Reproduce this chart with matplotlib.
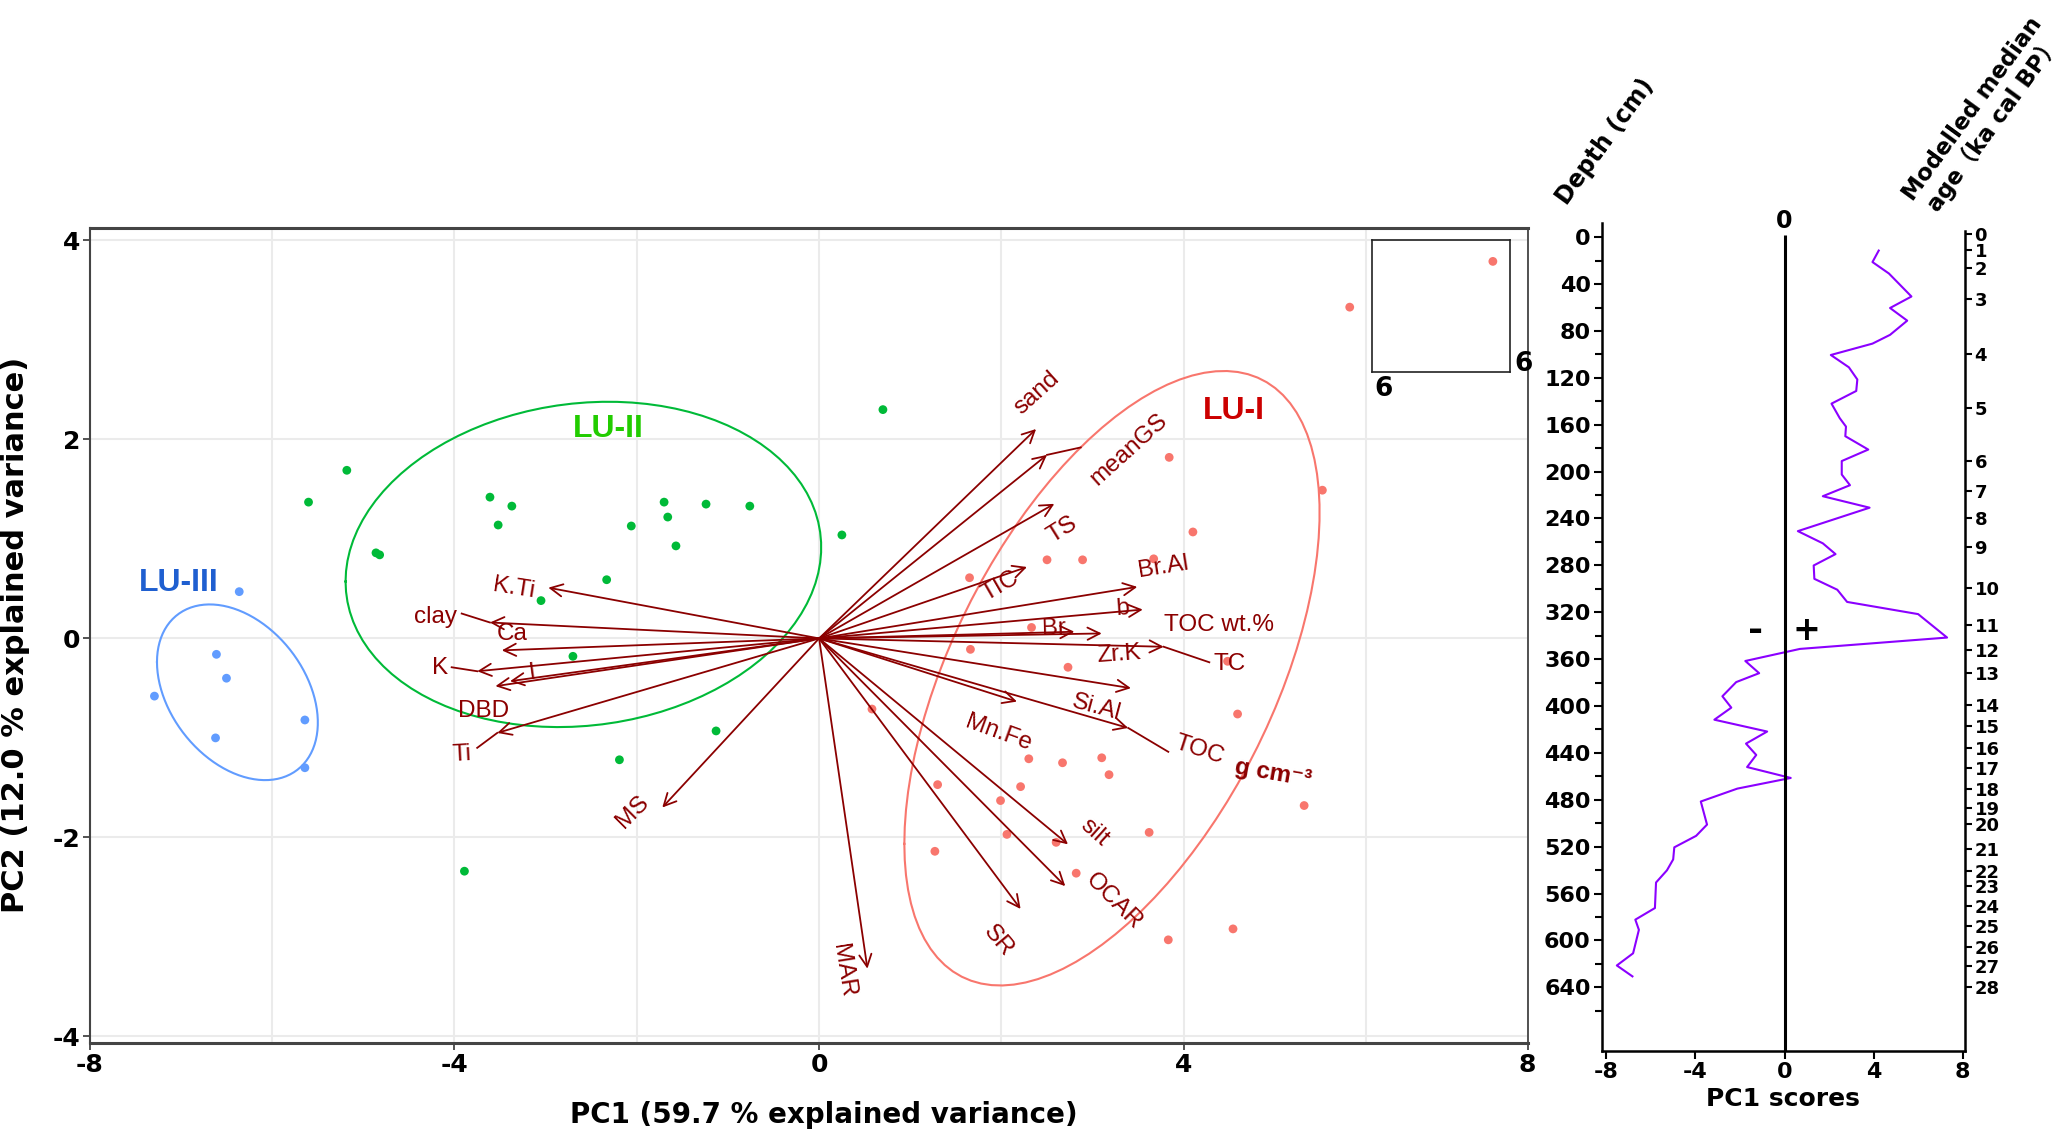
import numpy as np
import matplotlib.pyplot as plt

plt.rcParams['font.family'] = ['Liberation Sans', 'DejaVu Sans', 'Noto Sans CJK SC']

DARKRED = '#8B0000'
BOLD = ['DejaVu Sans', 'Noto Sans CJK SC']

# PCA scores, one pair of lists per lithological unit
# (the first LU-I sample is an off-scale outlier, shown in the small inset window)
lu1_pc1 = [7.20, 5.82, 3.84, 5.52, 4.10, 2.50, 2.89, 3.67, 1.65, 2.33, 1.66, 2.73, 4.48, 4.59, 0.58,
           2.30, 2.67, 3.10, 3.18, 1.30, 2.21, 5.32, 1.99, 2.06, 2.60, 3.62, 1.27, 2.82, 3.83, 4.54]
lu1_pc2 = [7.00, 3.33, 1.82, 1.49, 1.07, 0.79, 0.79, 0.80, 0.61, 0.11, -0.11, -0.29, -0.23, -0.76, -0.71,
           -1.21, -1.25, -1.20, -1.37, -1.47, -1.49, -1.68, -1.63, -1.97, -2.05, -1.95, -2.14, -2.36, -3.03, -2.92]
lu2_pc1 = [-5.18, -5.60, -3.61, -3.37, -3.52, -4.86, -4.82, -1.70, -1.24, -0.76, -1.66, -2.06, -1.57,
           0.25, 0.70, -2.33, -3.05, -2.70, -1.13, -2.19, -3.89]
lu2_pc2 = [1.69, 1.37, 1.42, 1.33, 1.14, 0.86, 0.84, 1.37, 1.35, 1.33, 1.22, 1.13, 0.93,
           1.04, 2.30, 0.59, 0.38, -0.18, -0.93, -1.22, -2.34]
lu3_pc1 = [-6.36, -6.61, -6.50, -7.29, -5.64, -6.62, -5.64]
lu3_pc2 = [0.47, -0.16, -0.40, -0.58, -0.82, -1.00, -1.30]

# variable loadings (arrow tips)
var_names = ['sand', 'meanGS', 'TS', 'TIC', 'Br.Al', 'b', 'Br', 'TOC wt.%', 'TC', 'Zr.K', 'Mn.Fe',
             'Si.Al', 'silt', 'OCAR', 'SR', 'MAR', 'MS', 'K.Ti', 'clay', 'Ca', 'K', 'I', 'DBD', 'Ti']
var_pc1 = [2.38, 2.50, 2.58, 2.28, 3.49, 3.55, 2.80, 3.10, 3.78, 3.42, 2.17,
           3.39, 2.73, 2.70, 2.21, 0.53, -1.72, -2.97, -3.61, -3.48, -3.75, -3.39, -3.55, -3.53]
var_pc2 = [2.105, 1.845, 1.353, 0.718, 0.518, 0.29, 0.067, 0.05, -0.084, -0.50, -0.635,
           -0.90, -2.07, -2.49, -2.72, -3.32, -1.70, 0.51, 0.16, -0.12, -0.33, -0.43, -0.48, -0.95]

# PC1 score down-core profile
depth_cm = [11.4, 21.2, 31, 50.6, 60.4, 71.2, 83.3, 90.8, 100.5, 111, 121.4, 131.2, 142, 154.4, 161.6,
            169.8, 181.2, 191, 202.5, 211.6, 221, 230.8, 250.8, 261.2, 270.4, 280.1, 291.5, 300.8, 311.2,
            321.6, 341.6, 351.3, 361.6, 372, 379.6, 391.7, 401.4, 411.7, 421.8, 432.1, 441.8, 452.1, 461.4,
            470.5, 481.5, 501.2, 510.8, 520.6, 530.9, 540.2, 550.6, 572.4, 582.3, 591, 611, 621.4, 630.7]
pc1_scores = [4.23, 3.95, 4.69, 5.70, 4.74, 5.51, 4.74, 3.95, 2.08, 2.89, 3.27, 3.22, 2.11, 2.48, 2.76,
              2.73, 3.76, 2.57, 2.57, 2.94, 1.72, 3.82, 0.60, 1.72, 2.29, 1.31, 1.34, 2.37, 2.81,
              6.0, 7.30, 0.69, -1.76, -1.14, -2.17, -2.79, -2.39, -3.15, -0.78, -1.73, -1.27, -1.68, 0.28,
              -2.12, -3.76, -3.48, -3.97, -4.95, -5.0, -5.28, -5.77, -5.82, -6.70, -6.54, -6.80, -7.53, -6.83]

# modelled median age (ka cal BP) and the depth where each age falls
age_ka = list(range(29))
age_depth = [-3, 11, 26.5, 53, 100, 146, 191, 216.5, 239.5, 264.6, 299.5, 331.2, 352, 371.7, 399.3,
             416.9, 435.6, 453.2, 471.2, 486.7, 500.5, 521.9, 541, 554, 570.6, 587.9, 605.9, 622.1, 639.7]

# label placement (x, y, rotation) for the loading names, as edited on the figure
label_layout = {
    'sand': (2.39, 2.47, 42), 'meanGS': (3.40, 1.90, 42), 'TS': (2.67, 1.09, 32),
    'TIC': (1.99, 0.53, 30), 'Br.Al': (3.78, 0.72, 9), 'b': (3.33, 0.30, 4),
    'Br': (2.58, 0.10, 2), 'TOC wt.%': (4.39, 0.13, 0), 'Zr.K': (3.29, -0.16, 4),
    'TC': (4.50, -0.26, 0), 'Si.Al': (3.04, -0.70, -15), 'Mn.Fe': (1.97, -0.95, -20),
    'silt': (3.02, -1.95, -42), 'OCAR': (3.23, -2.64, -45), 'SR': (1.97, -3.04, -50),
    'MAR': (0.26, -3.34, -81), 'MS': (-2.05, -1.74, 45), 'K.Ti': (-3.35, 0.50, -9),
    'clay': (-4.21, 0.22, 0), 'Ca': (-3.37, 0.04, 0), 'K': (-4.16, -0.30, 0),
    'I': (-3.15, -0.34, 8), 'DBD': (-3.68, -0.73, 0), 'Ti': (-3.92, -1.17, 3),
}
# leader lines drawn from an arrow tip to a label
leaders = [('clay', -3.92, 0.25), ('K', -4.03, -0.29), ('Ti', -3.75, -1.10),
           ('meanGS', 2.87, 1.92), ('TC', 4.28, -0.24), ('Si.Al', 3.83, -1.14)]


def group_ellipse(px, py, prob=0.68, n=100):
    # normal-theory ellipse as in ggbiplot
    xy = np.column_stack([px, py])
    mu = xy.mean(axis=0)
    sigma = np.cov(xy, rowvar=False)
    r = np.linalg.cholesky(sigma).T
    ed = np.sqrt(-2 * np.log(1 - prob))
    t = np.linspace(-np.pi, np.pi, n)
    pts = np.column_stack([np.cos(t), np.sin(t)]) @ r * ed + mu
    return pts[:, 0], pts[:, 1]


fig = plt.figure(figsize=(20.67, 11.35), dpi=100)

# ---------------- biplot ----------------
ax = fig.add_axes([0.0434, 0.0808, 0.6956, 0.7187])
ax.set_xlim(-8, 7.77)
ax.set_ylim(-4.07, 4.13)
ax.set_xticks(np.arange(-6, 8, 2), minor=True)
ax.set_xticks([-8, -4, 0, 4, 7.77], ['-8', '-4', '0', '4', '8'],
              fontsize=18, fontweight='bold', family=BOLD)
ax.set_yticks([-4, -2, 0, 2, 4], ['-4', '-2', '0', '2', '4'],
              fontsize=18, fontweight='bold', family=BOLD)
ax.tick_params(which='minor', length=0)
ax.tick_params(which='major', length=5, width=1.3, color='#444444', pad=2)
ax.grid(True, which='both', color='#EBEBEB', lw=1.5)
ax.set_axisbelow(True)
for side, lw in [('top', 2.2), ('bottom', 2.2), ('left', 1.5), ('right', 1.3)]:
    ax.spines[side].set_linewidth(lw)
    ax.spines[side].set_color('#444444')

# inset window for the off-scale LU-I sample
ins = ax.inset_axes([6.06, 2.68, 1.52, 1.32], transform=ax.transData)
ins.set_xlim(5.87, 7.39)
ins.set_ylim(5.89, 7.21)
ins.set_facecolor('none')
ins.set_xticks([6], ['6'], fontsize=19, fontweight='bold', family=BOLD)
ins.set_yticks([6], ['6'], fontsize=19, fontweight='bold', family=BOLD)
ins.yaxis.tick_right()
ins.tick_params(length=0, pad=3)
for side in ins.spines.values():
    side.set_linewidth(1.2)
    side.set_color('#222222')

groups = [(lu1_pc1, lu1_pc2, '#F8766D'), (lu2_pc1, lu2_pc2, '#00BA38'), (lu3_pc1, lu3_pc2, '#619CFF')]
for px, py, col in groups:
    ex, ey = group_ellipse(px, py)
    ax.plot(ex, ey, color=col, lw=1.5, zorder=2)
    ax.scatter(px, py, s=40, color=col, edgecolors='none', zorder=3)
ins.scatter(lu1_pc1, lu1_pc2, s=40, color='#F8766D', edgecolors='none')

for name, vx, vy in zip(var_names, var_pc1, var_pc2):
    ax.annotate('', xy=(vx, vy), xytext=(0, 0),
                arrowprops=dict(arrowstyle='->', color=DARKRED, lw=1.3, mutation_scale=22,
                                shrinkA=0, shrinkB=0), zorder=4)

for name, ex, ey in leaders:
    i = var_names.index(name)
    ax.plot([var_pc1[i], ex], [var_pc2[i], ey], color=DARKRED, lw=1.3, zorder=4)

for name, (lx, ly, rot) in label_layout.items():
    ax.text(lx, ly, name, color=DARKRED, fontsize=17.5, rotation=rot,
            ha='center', va='center', rotation_mode='anchor', zorder=5)
ax.text(4.17, -1.12, 'TOC', color=DARKRED, fontsize=17.5, rotation=-18,
        ha='center', va='center', rotation_mode='anchor', zorder=5)
ax.text(4.98, -1.36, 'g cm⁻³', color=DARKRED, fontsize=17.5, fontweight='bold', rotation=-10,
        ha='center', va='center', rotation_mode='anchor', zorder=5)

ax.text(4.55, 2.29, 'LU-I', color='#CC0000', fontsize=23, fontweight='bold', ha='center', va='center')
ax.text(-2.31, 2.11, 'LU-II', color='#22CC00', fontsize=23, fontweight='bold', ha='center', va='center')
ax.text(-7.02, 0.56, 'LU-III', color='#1F5FD0', fontsize=23, fontweight='bold', ha='center', va='center')

fig.text(0.3984, 0.0176, 'PC1 (59.7 % explained variance)', fontsize=20, fontweight='bold',
         family=BOLD, ha='center', va='center')
fig.text(0.0077, 0.4405, 'PC2 (12.0 % explained variance)', fontsize=22, fontweight='bold',
         family=BOLD, ha='center', va='center', rotation=90)

# ---------------- PC1 profile ----------------
axr = fig.add_axes([0.775, 0.0744, 0.1756, 0.729])
axr.plot(pc1_scores, depth_cm, color='#8B00FF', lw=1.5)
axr.vlines(0, -2, 694, color='black', lw=2.2)
axr.set_xlim(-8.2, 8.1)
axr.set_ylim(694, -12)
axr.set_xticks([-8, -4, 0, 4, 8], ['-8', '-4', '0', '4', '8'],
               fontsize=16, fontweight='bold', family=BOLD)
axr.set_yticks(np.arange(0, 641, 40), [str(d) for d in range(0, 641, 40)],
               fontsize=16, fontweight='bold', family=BOLD)
axr.set_yticks(np.arange(20, 661, 40), minor=True)
axr.tick_params(which='major', length=6, width=1.5, pad=2)
axr.tick_params(which='minor', length=5, width=1.5)
axr.spines['top'].set_visible(False)
axr.spines['right'].set_visible(False)
for side in ['left', 'bottom']:
    axr.spines[side].set_linewidth(1.8)
axr.set_xlabel('PC1 scores', fontsize=18, fontweight='bold', family=BOLD, labelpad=4)

axa = axr.twinx()
axa.set_ylim(694, -12)
axa.set_yticks(age_depth, [str(a) for a in age_ka], fontsize=13, fontweight='bold', family=BOLD)
axa.tick_params(length=5, width=1.5, pad=2)
for side in ['left', 'top', 'bottom']:
    axa.spines[side].set_visible(False)
axa.spines['right'].set_linewidth(1.8)
axa.spines['right'].set_bounds(-5, 694)

axr.text(0, -4, '0', fontsize=17, fontweight='bold', family=BOLD, ha='center', va='bottom',
         clip_on=False)
axr.text(-1.3, 336, '-', fontsize=26, fontweight='bold', family=BOLD, ha='center', va='center')
axr.text(1.0, 336, '+', fontsize=24, fontweight='bold', family=BOLD, ha='center', va='center')

fig.text(0.7765, 0.875, 'Depth (cm)', fontsize=17, fontweight='bold', family=BOLD,
         rotation=54, ha='center', va='center')
fig.text(0.9595, 0.8975, 'Modelled median\nage\uff08ka cal BP\uff09', fontsize=16.5, fontweight='bold',
         family=BOLD, rotation=54, ha='center', va='center', multialignment='center',
         linespacing=1.1)

fig.savefig('out.png', dpi=100)
